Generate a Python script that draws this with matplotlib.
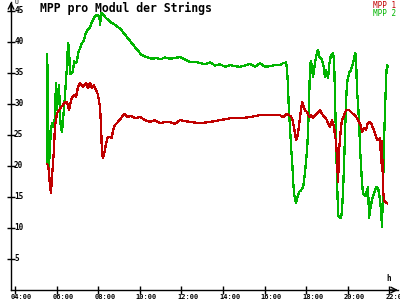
import matplotlib
matplotlib.use("Agg")
import matplotlib.pyplot as plt
import matplotlib.transforms as mtransforms

# MPP values per module, time in decimal hours
mpp2_time = [5.53, 5.55, 5.59, 5.63, 5.68, 5.73, 5.78, 5.83, 5.88, 5.92, 5.97, 6.02,
             6.07, 6.12, 6.16, 6.21, 6.26, 6.31, 6.36, 6.40, 6.45, 6.50, 6.55, 6.60,
             6.64, 6.69, 6.79, 6.84, 6.88, 6.98, 7.03, 7.13, 7.22, 7.32, 7.41, 7.51,
             7.61, 7.70, 7.80, 7.94, 8.06, 8.09, 8.14, 8.21, 8.37, 8.56, 8.84, 9.10,
             9.29, 9.48, 9.67, 9.86, 10.06, 10.30, 10.59, 10.80, 11.00, 11.20, 11.45,
             11.70, 11.93, 12.15, 12.41, 12.65, 12.89, 13.15, 13.38, 13.62, 13.86,
             14.10, 14.34, 14.58, 14.82, 15.06, 15.30, 15.54, 15.78, 16.02, 16.26,
             16.50, 16.74, 16.89, 17.03, 17.08, 17.13, 17.17, 17.22, 17.27, 17.32,
             17.37, 17.41, 17.51, 17.56, 17.65, 17.75, 17.85, 17.94, 18.04, 18.09,
             18.14, 18.18, 18.23, 18.28, 18.33, 18.42, 18.52, 18.57, 18.62, 18.71,
             18.81, 18.90, 18.95, 19.00, 19.05, 19.10, 19.19, 19.29, 19.34, 19.43,
             19.48, 19.53, 19.58, 19.67, 19.72, 19.77, 19.82, 19.87, 19.91, 19.96,
             20.06, 20.15, 20.25, 20.35, 20.39, 20.44, 20.49, 20.54, 20.59, 20.64,
             20.68, 20.73, 20.85, 20.97, 21.02, 21.07, 21.16, 21.26, 21.36, 21.45,
             21.55, 21.60, 21.64, 21.69, 21.74, 21.79, 21.84, 21.88, 21.93]
mpp2_value = [20.5, 38.0, 30.0, 19.5, 23.0, 25.8, 27.0, 26.5, 26.3, 28.0, 33.4, 29.0,
              31.8, 33.0, 28.5, 26.0, 25.5, 27.4, 29.5, 31.0, 33.9, 36.0, 39.8, 39.0,
              35.0, 34.8, 35.2, 37.0, 36.6, 36.8, 38.2, 39.0, 39.8, 40.3, 41.5, 42.0,
              42.3, 43.2, 43.9, 44.4, 44.0, 42.7, 44.7, 44.5, 43.9, 43.3, 42.7, 42.0,
              41.2, 40.4, 39.6, 38.8, 38.0, 37.6, 37.3, 37.4, 37.2, 37.5, 37.3,
              37.4, 37.6, 37.2, 36.8, 36.8, 36.6, 36.4, 36.7, 36.2, 36.4,
              36.0, 36.3, 36.1, 36.0, 36.2, 36.5, 36.0, 36.6, 36.0, 36.1,
              36.3, 36.3, 36.6, 36.7, 35.5, 32.3, 28.5, 26.3, 23.0, 21.0,
              17.7, 15.6, 14.0, 14.8, 15.8, 16.1, 16.6, 18.9, 22.6, 25.8,
              31.0, 36.0, 37.0, 35.5, 34.4, 36.6, 38.4, 38.7, 37.6, 37.4,
              36.6, 34.4, 35.5, 34.7, 34.2, 36.3, 37.9, 38.2, 37.0, 24.2,
              17.7, 12.1, 11.8, 11.6, 12.9, 16.1, 20.5, 25.8, 30.2, 33.4,
              35.0, 35.5, 36.6, 38.2, 37.9, 31.9, 30.2, 26.9, 22.6, 19.8,
              17.3, 15.6, 15.2, 16.6, 11.6, 12.9, 14.5, 15.6, 16.6, 16.5,
              14.5, 12.4, 10.2, 16.1, 24.2, 29.5, 34.4, 36.3, 36.0]

mpp1_time = [5.54, 5.59, 5.64, 5.68, 5.73, 5.78, 5.83, 5.88, 5.92, 6.02, 6.12, 6.21,
             6.31, 6.36, 6.50, 6.60, 6.64, 6.74, 6.84, 6.93, 7.03, 7.13, 7.27, 7.41,
             7.51, 7.61, 7.70, 7.80, 7.89, 7.99, 8.09, 8.14, 8.18, 8.23, 8.28, 8.38,
             8.47, 8.57, 8.66, 8.71, 8.81, 8.95, 9.10, 9.24, 9.43, 9.58, 9.77, 10.01,
             10.25, 10.49, 10.73, 10.97, 11.21, 11.45, 11.69, 11.93, 12.41, 12.89,
             13.38, 13.86, 14.34, 14.82, 15.30, 15.78, 16.26, 16.74, 16.89, 17.08,
             17.22, 17.32, 17.41, 17.51, 17.56, 17.65, 17.70, 17.80, 17.85, 17.94,
             18.04, 18.14, 18.23, 18.33, 18.42, 18.57, 18.66, 18.76, 18.86, 18.95,
             19.05, 19.14, 19.24, 19.34, 19.38, 19.43, 19.48, 19.53, 19.58, 19.63,
             19.67, 19.72, 19.82, 19.91, 20.06, 20.15, 20.25, 20.35, 20.44, 20.54,
             20.64, 20.68, 20.78, 20.88, 20.92, 21.02, 21.12, 21.21, 21.31, 21.40,
             21.45, 21.55, 21.60, 21.64, 21.69, 21.74, 21.79, 21.88]
mpp1_value = [20.3, 20.2, 18.9, 16.9, 15.6, 18.2, 20.5, 23.0, 26.3, 28.5, 29.0, 29.5,
              29.8, 30.2, 30.3, 29.0, 29.8, 31.0, 31.5, 31.1, 32.7, 33.4, 32.7, 33.4,
              32.6, 33.4, 32.6, 33.0, 32.3, 31.5, 29.5, 26.3, 22.1, 21.3, 21.8, 23.7,
              24.7, 24.7, 24.5, 25.8, 26.6, 27.1, 27.7, 28.4, 27.9, 28.1, 27.7, 27.9,
              27.4, 27.1, 27.4, 26.9, 27.1, 27.1, 26.8, 27.4, 27.1, 26.9,
              27.1, 27.4, 27.7, 27.7, 27.9, 28.2, 28.2, 28.2, 27.9, 28.4,
              28.1, 27.7, 26.3, 24.2, 24.5, 26.3, 27.9, 30.3, 29.8, 29.0,
              28.7, 27.9, 28.2, 27.7, 28.2, 28.7, 29.0, 28.4, 27.9, 27.7,
              26.9, 26.3, 27.4, 26.3, 24.7, 24.2, 21.0, 17.4, 22.6, 24.7,
              26.3, 27.4, 28.2, 29.0, 29.0, 28.7, 28.4, 28.1, 27.7, 27.1,
              26.3, 25.5, 26.1, 25.8, 26.6, 27.1, 26.9, 26.1, 25.3, 24.2,
              24.2, 24.5, 20.5, 24.0, 16.1, 14.5, 14.2, 14.0]

y_ticks = [5, 10, 15, 20, 25, 30, 35, 40, 45]
x_ticks = [4, 6, 8, 10, 12, 14, 16, 18, 20, 22]
x_labels = ["04:00", "06:00", "08:00", "10:00", "12:00", "14:00",
            "16:00", "18:00", "20:00", "22:00"]

red = "#c00000"
green = "#00b400"
mono = "DejaVu Sans Mono"

fig = plt.figure(figsize=(4, 3), dpi=100)
ax = fig.add_axes([11 / 400, 10 / 300, 387 / 400, 288 / 300])

ax.plot(mpp2_time, mpp2_value, color=green, lw=0.9, antialiased=False)
ax.plot(mpp1_time, mpp1_value, color=red, lw=0.9, antialiased=False)

ax.set_xlim(3.81, 22.41)
ax.set_ylim(0, 46.45)

for side in ["top", "right"]:
    ax.spines[side].set_visible(False)
for side in ["left", "bottom"]:
    ax.spines[side].set_linewidth(1)
    ax.spines[side].set_color("black")

# axis arrows
ax.annotate("", xy=(1.0, 0), xytext=(0.98, 0), xycoords="axes fraction",
            arrowprops=dict(arrowstyle="->", lw=1, color="black",
                            shrinkA=0, shrinkB=0), annotation_clip=False)
ax.annotate("", xy=(0, 1.0), xytext=(0, 0.97), xycoords="axes fraction",
            arrowprops=dict(arrowstyle="->", lw=1, color="black",
                            shrinkA=0, shrinkB=0), annotation_clip=False)

ax.set_xticks(x_ticks)
ax.set_xticklabels([])
ax.tick_params(axis="x", direction="inout", length=6, width=1)
# x labels sit just inside the bottom edge, starting a little left of the tick
xtrans = mtransforms.blended_transform_factory(ax.transData, fig.transFigure)
shift = mtransforms.ScaledTranslation(-4 / 100, 0, fig.dpi_scale_trans)
for t, lab in zip(x_ticks, x_labels):
    ax.text(t, 0.0, lab, transform=xtrans + shift, fontsize=5.0,
            family=mono, fontweight="bold", ha="left", va="bottom", clip_on=False)

ax.set_yticks(y_ticks)
ax.set_yticklabels([])
ax.tick_params(axis="y", direction="inout", length=6, width=1)
ytrans = mtransforms.blended_transform_factory(ax.transAxes, ax.transData)
for v in y_ticks:
    ax.text(0.008, v, str(v), transform=ytrans, fontsize=5.5, family=mono,
            fontweight="bold", ha="left", va="center")

fig.text(14 / 400, 1 - 0.5 / 300, "U", fontsize=4.5, family=mono,
         ha="left", va="top")
ax.text(0.975, 0.025, "h", transform=ax.transAxes, fontsize=5.5, family=mono,
        fontweight="bold", ha="center", va="bottom")

fig.text(40 / 400, 1 - 8 / 300, "MPP pro Modul der Strings", fontsize=8.3,
         family=mono, fontweight="bold", ha="left", va="center")
fig.text(396 / 400, 1 - 1 / 300, "MPP 1", fontsize=5.5, family=mono, color=red,
         ha="right", va="top")
fig.text(396 / 400, 1 - 9 / 300, "MPP 2", fontsize=5.5, family=mono, color=green,
         ha="right", va="top")

fig.savefig("out.png", dpi=100)
plt.close(fig)
